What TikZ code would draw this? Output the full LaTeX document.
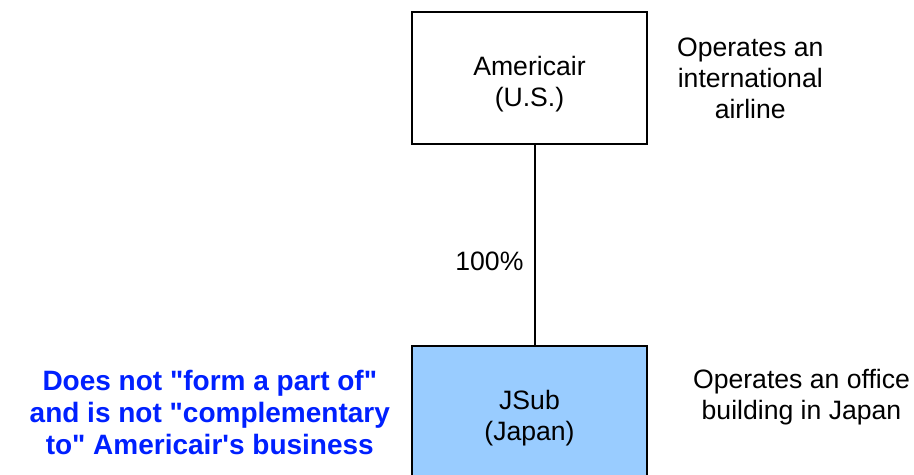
\documentclass[tikz,border=0pt]{standalone}
\usepackage{fontspec}
\setmainfont{Liberation Sans}
\usetikzlibrary{positioning}
\definecolor{subblue}{RGB}{153,204,255}
\definecolor{noteblue}{RGB}{0,32,255}

\begin{document}
\begin{tikzpicture}[x=0.5pt, y=-0.5pt,
        entity/.style={draw, line width=1pt, minimum width=117.5pt, minimum height=66pt,
            align=center, font=\fontsize{13.3}{15.5}\selectfont,
            execute at begin node={\rule{0pt}{31pt}}},
        remark/.style={align=center, font=\fontsize{13.3}{15.5}\selectfont}]
        \useasboundingbox (0,0) rectangle (914,475);

        \node[entity] (parent) at (529.5,78.5) {Americair\\(U.S.)};
        \node[entity, fill=subblue] (jsub) at (529.5,412) {JSub\\(Japan)};

        \draw[line width=0.9pt] ([xshift=2.75pt]parent.south) -- ([xshift=2.75pt]jsub.north)
            node[pos=0.58, left=2pt, font=\fontsize{13.3}{15.5}\selectfont]{100\%};

        \node[remark, right=11pt of parent] (airline) {Operates an\\international\\airline};
        \node[remark, right=19pt of jsub, yshift=7.5pt] (office) {Operates an office\\building in Japan};
        \node[remark, left=7pt of jsub, text=noteblue, font=\bfseries\fontsize{14}{16}\selectfont] (note)
            {Does not \textquotedbl form a part of\textquotedbl\\and is not \textquotedbl complementary\\to\textquotedbl\ Americair\textquotesingle s business};
    \end{tikzpicture}
\end{document}
